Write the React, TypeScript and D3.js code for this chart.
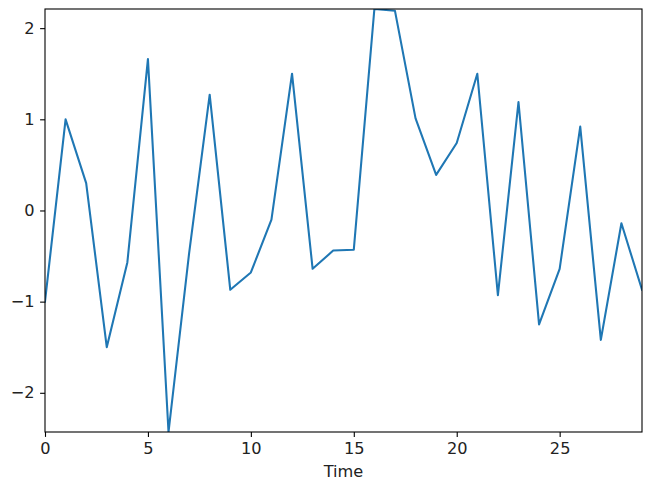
import React, { useEffect, useRef } from 'react';
import * as d3 from 'd3';

// series
const times = d3.range(0, 30);
const values = [
  -1.0, 1.0, 0.3, -1.5, -0.57, 1.66, -2.43, -0.47, 1.27, -0.87,
  -0.68, -0.1, 1.5, -0.64, -0.44, -0.43, 2.21, 2.19, 1.01, 0.39,
  0.74, 1.5, -0.93, 1.19, -1.25, -0.64, 0.92, -1.42, -0.14, -0.87,
];
const xTicks = [0, 5, 10, 15, 20, 25];
const yTicks = [-2, -1, 0, 1, 2];
const xLabel = 'Time';

export default function App() {
  const ref = useRef<SVGSVGElement | null>(null);

  useEffect(() => {
    const width = 651;
    const height = 491;
    const left = 45;
    const right = 642;
    const top = 9;
    const bottom = 432;
    const font = 'DejaVu Sans, sans-serif';
    const fontSize = 16.2;

    const svg = d3.select(ref.current);
    svg.selectAll('*').remove();
    svg.attr('width', width).attr('height', height);

    const x = d3.scaleLinear().domain([0, 29]).range([left, right]);
    const y = d3.scaleLinear().domain(d3.extent(values) as [number, number]).range([bottom, top]);

    svg.append('defs').append('clipPath').attr('id', 'clip')
      .append('rect')
      .attr('x', left).attr('y', top)
      .attr('width', right - left).attr('height', bottom - top);

    const line = d3.line<number>()
      .x((d, i) => x(times[i]))
      .y(d => y(d));

    svg.append('path')
      .datum(values)
      .attr('clip-path', 'url(#clip)')
      .attr('fill', 'none')
      .attr('stroke', '#1f77b4')
      .attr('stroke-width', 2.08)
      .attr('stroke-linejoin', 'round')
      .attr('stroke-linecap', 'square')
      .attr('d', line);

    // x axis
    const xAxis = svg.append('g')
      .attr('transform', `translate(0,${bottom})`)
      .call(d3.axisBottom(x).tickValues(xTicks).tickSize(4.9).tickPadding(5.5).tickFormat(d3.format('d')));
    xAxis.select('.domain').remove();
    xAxis.selectAll('line').attr('stroke', '#000').attr('stroke-width', 1.1);
    xAxis.selectAll('text').attr('font-family', font).attr('font-size', fontSize).attr('fill', '#222');

    // y axis
    const yAxis = svg.append('g')
      .attr('transform', `translate(${left},0)`)
      .call(d3.axisLeft(y).tickValues(yTicks).tickSize(4.9).tickPadding(5.5)
        .tickFormat(d => (+d < 0 ? '\u2212' + Math.abs(+d) : String(d))));
    yAxis.select('.domain').remove();
    yAxis.selectAll('line').attr('stroke', '#000').attr('stroke-width', 1.1);
    yAxis.selectAll('text').attr('font-family', font).attr('font-size', fontSize).attr('fill', '#222');

    // frame
    svg.append('rect')
      .attr('x', left).attr('y', top)
      .attr('width', right - left).attr('height', bottom - top)
      .attr('fill', 'none').attr('stroke', '#000').attr('stroke-width', 1.1);

    svg.append('text')
      .attr('x', (left + right) / 2)
      .attr('y', 476.5)
      .attr('text-anchor', 'middle')
      .attr('font-family', font)
      .attr('font-size', fontSize)
      .attr('fill', '#222')
      .text(xLabel);
  }, []);

  return <svg ref={ref} style={{ position: 'absolute', left: 0, top: 0 }}></svg>;
}
